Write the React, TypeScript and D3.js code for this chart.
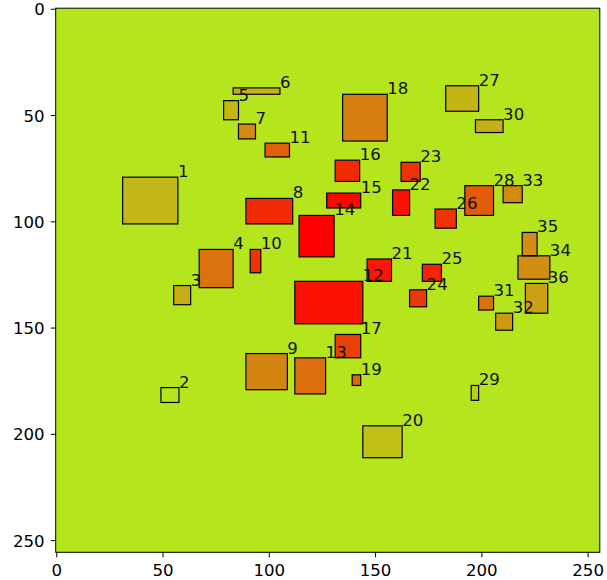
import React from "react";
import * as d3 from "d3";

const ids = Array.from({ length: 36 }, (_, i) => i + 1);
const xs = [31, 49, 55, 67, 78.5, 83, 85.5, 89, 89, 91, 98, 112, 112, 114, 127, 131, 131, 134.5, 139, 144, 146, 158, 162, 166, 172, 178, 183, 192, 195, 197, 198.5, 206.5, 210, 217, 219, 220.5];
const ys = [79, 178, 130, 113, 43, 37, 54, 89, 162, 113, 63, 128, 164, 97, 86.5, 71, 153, 40, 172, 196, 117.5, 85, 72, 132, 120, 94, 36, 83, 177, 52, 135, 143, 83, 116, 105, 129];
const widths = [26, 8.5, 8, 16, 7, 22, 8, 22, 19.5, 5, 11.5, 32, 14.5, 16.5, 16, 11.5, 12, 21, 4, 18.5, 11.5, 8, 9, 8, 9, 10, 15.5, 13.5, 3.5, 13, 7, 8, 9, 15, 7, 10.5];
const heights = [22, 7, 9, 18, 9, 3, 7, 12, 17, 11, 6.5, 20, 17, 19.5, 7, 10, 11, 22, 5, 15, 10.5, 12, 9, 8, 8, 9, 12, 14, 7, 6, 6.5, 8, 8, 11, 11, 14];
const scores = [0.2, 0, 0.25, 0.5, 0.2, 0.22, 0.4, 0.81, 0.42, 0.78, 0.58, 0.92, 0.52, 1.0, 0.98, 0.82, 0.72, 0.45, 0.55, 0.16, 0.9, 0.92, 0.78, 0.75, 0.85, 0.78, 0.22, 0.6, 0.12, 0.24, 0.5, 0.33, 0.4, 0.38, 0.38, 0.3];
const xTicks = [0, 50, 100, 150, 200, 250];
const yTicks = [0, 50, 100, 150, 200, 250];

const W = 607;
const H = 580;
const left = 55.7;
const right = 599.8;
const top = 8.2;
const bottom = 552.3;
const FONT = "DejaVu Sans, sans-serif";
const FS = 16.6;

export default function App() {
  const x = d3.scaleLinear().domain([-0.5, 255.5]).range([left, right]);
  const y = d3.scaleLinear().domain([-0.5, 255.5]).range([top, bottom]);
  return (
    <svg
      width={W}
      height={H}
      style={{ position: "absolute", left: 0, top: 0, background: "#fff" }}
      fontFamily={FONT}
    >
      <rect x={left} y={top} width={right - left} height={bottom - top} fill="rgb(181,230,29)" />
      {ids.map((id, i) => (
        <rect
          key={"r" + id}
          x={x(xs[i])}
          y={y(ys[i])}
          width={x(xs[i] + widths[i]) - x(xs[i])}
          height={y(ys[i] + heights[i]) - y(ys[i])}
          fill="red"
          fillOpacity={scores[i]}
          stroke="#000"
          strokeWidth={1.2}
        />
      ))}
      {ids.map((id, i) => (
        <text key={"t" + id} x={x(xs[i] + widths[i])} y={y(ys[i])} fontSize={FS} fill="#111">
          {id}
        </text>
      ))}
      <rect x={left} y={top} width={right - left} height={bottom - top} fill="none" stroke="#000" strokeWidth={1} />
      {xTicks.map((t) => (
        <g key={"xt" + t}>
          <line x1={x(t)} x2={x(t)} y1={bottom} y2={bottom + 5} stroke="#000" strokeWidth={1} />
          <text x={x(t)} y={bottom + 23.5} fontSize={FS} textAnchor="middle" fill="#000">
            {t}
          </text>
        </g>
      ))}
      {yTicks.map((t) => (
        <g key={"yt" + t}>
          <line x1={left - 5} x2={left} y1={y(t)} y2={y(t)} stroke="#000" strokeWidth={1} />
          <text x={left - 11} y={y(t) + 6} fontSize={FS} textAnchor="end" fill="#000">
            {t}
          </text>
        </g>
      ))}
    </svg>
  );
}
